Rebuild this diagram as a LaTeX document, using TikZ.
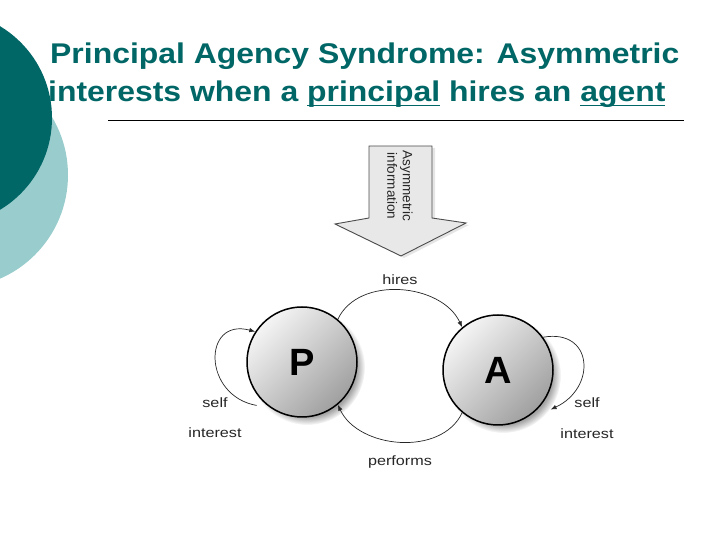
\documentclass[tikz,border=0pt]{standalone}
\usepackage{fontspec}
\usepackage{xcolor}
\usepackage{tikz}
\usetikzlibrary{arrows.meta, positioning, calc, shadows}

\setmainfont{Liberation Sans}
\newfontfamily\lblfont[FakeStretch=1.2]{Liberation Sans}
\newfontfamily\titlefont[FakeStretch=1.12]{Liberation Sans}
\definecolor{teal1}{RGB}{0,102,102}
\definecolor{teal2}{RGB}{153,204,204}
\newsavebox{\ulbox}
\newcommand{\titleul}[1]{\sbox{\ulbox}{#1}\rlap{\rule[-4pt]{\wd\ulbox}{1.4pt}}\usebox{\ulbox}}

\begin{document}
\begin{tikzpicture}[
        x=1pt, y=1pt,
        title/.style={anchor=base west, inner sep=0pt, text=teal1, font=\titlefont\fontsize{28.5}{34}\selectfont\bfseries},
        agent/.style={circle, draw=black, line width=1.5pt, minimum size=110pt, inner sep=0pt,
            top color=gray!8, bottom color=gray!75, shading angle=45,
            circular drop shadow={shadow xshift=5pt, shadow yshift=-5pt, shadow scale=1.05, opacity=0.7},
            font=\fontsize{38}{38}\selectfont\bfseries},
        bigarrow/.style={draw=gray!60!black, line width=0.9pt, fill=gray!18,
            drop shadow={shadow xshift=3pt, shadow yshift=-2pt, fill=gray!40, opacity=0.5}},
        arrowtext/.style={rotate=-90, align=center, inner sep=0pt, text=black!85, font=\fontsize{13.5}{15.5}\selectfont},
        link/.style={draw=gray!30!black, line width=0.7pt, -{Latex[length=6pt, width=4.5pt]}},
        lbl/.style={anchor=base, inner sep=1pt, text=black!85, font=\lblfont\fontsize{13.5}{15}\selectfont},
    ]
        \useasboundingbox (0,0) rectangle (720,540);
        % slide decoration
        \fill[teal2] (-45,365) circle (113);
        \fill[teal1] (-55,422) circle (107);

        % title
        \node[title] (ttl1) at (50,476) {Principal Agency Syndrome: Asymmetric};
        \node[title] (ttl2) at (48,438) {interests when a \titleul{principal} hires an \titleul{agent}};
        \draw[line width=0.7pt] (108,420) -- (684,420);

        % asymmetric information arrow
        \draw[bigarrow] (369,394) -- (432,394) -- (432,322) -- (466,317) -- (401,284)
            -- (335,316) -- (369,322) -- cycle;
        \node[arrowtext] (info) at (400,354) {Asymmetric\\information};

        % principal and agent
        \node[agent] (P) at (302,178) {P};
        \node[agent] (A) at (498,170) {A};

        \draw[link] (P.50) to[out=65, in=115] node[lbl, above=4pt] (hires) {hires} (A.130);
        \draw[link] (A.230) to[out=-115, in=-65] node[lbl, below=13pt] (perf) {performs} (P.310);
        \draw[link] ($(P.225)+(-6,-4)$) to[out=170, in=165, looseness=1.9] (P.147);
        \draw[link] (A.36) to[out=10, in=25, looseness=1.8] ($(A.-37)+(-37:10)$);

        \node[lbl] (selfP) at (215,132) {self};
        \node[lbl] (intP) at (215,102) {interest};
        \node[lbl] (selfA) at (587,132) {self};
        \node[lbl] (intA) at (587,101) {interest};
    \end{tikzpicture}
\end{document}
